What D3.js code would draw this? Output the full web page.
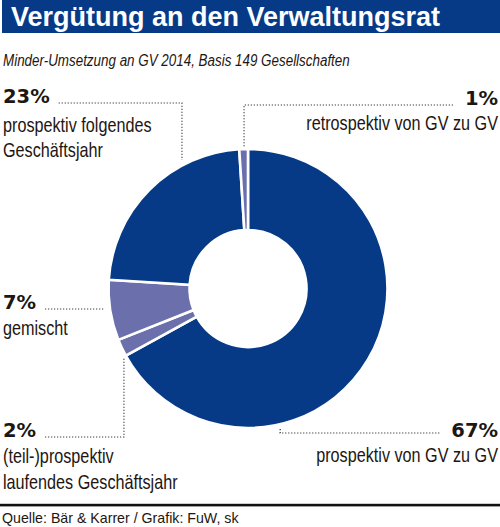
<!DOCTYPE html>
<html><head><meta charset="utf-8">
<script src="https://cdn.jsdelivr.net/npm/d3@7"></script>
<style>body{margin:0;background:#fff}svg{display:block}</style>
</head><body>
<script>
// ---- data ----
const title = "Vergütung an den Verwaltungsrat";
const subtitle = "Minder-Umsetzung an GV 2014, Basis 149 Gesellschaften";
const source = "Quelle: Bär & Karrer / Grafik: FuW, sk";
const categories = ["prospektiv von GV zu GV", "(teil-)prospektiv laufendes Geschäftsjahr", "gemischt", "prospektiv folgendes Geschäftsjahr", "retrospektiv von GV zu GV"];
const values = [67, 2, 7, 23, 1];
const labelLines = [["prospektiv von GV zu GV"], ["(teil-)prospektiv", "laufendes Geschäftsjahr"], ["gemischt"], ["prospektiv folgendes", "Geschäftsjahr"], ["retrospektiv von GV zu GV"]];

// ---- layout / style ----
const W = 500, H = 527;
const DARK = "#063a87", LIGHT = "#6b70ac", INK = "#1e1612";
const cx = 248, cy = 288.5, rOuter = 139.5, rInner = 58.5;
const color = d3.scaleOrdinal(categories, [DARK, LIGHT, LIGHT, DARK, LIGHT]);
// per category: side, baseline of percentage, baselines of the text lines, leader line y, anchor angle (deg) and radius
const layout = [
  {side: "right", pctY: 437, lines: [462], lineY: 433, ang: 167, r: 143},
  {side: "left", pctY: 437, lines: [463, 489], lineY: 437, ang: 241.1, r: 141.7},
  {side: "left", pctY: 309, lines: [335], lineY: 309, ang: 261.8, r: 144.5},
  {side: "left", pctY: 103, lines: [132, 157], lineY: 103, ang: 332.8, r: 144.5},
  {side: "right", pctY: 105, lines: [130], lineY: 105, ang: 358.4, r: 141.5}
];
const SANS = "'Liberation Sans', Arial, Helvetica, sans-serif";
const BOLDPCT = "'DejaVu Sans', Verdana, sans-serif";
const SQUEEZE = 0.79;

const svg = d3.select("body").append("svg").attr("width", W).attr("height", H);

// header
svg.append("rect").attr("x", 2).attr("y", 0).attr("width", W - 2).attr("height", 33).attr("fill", DARK);
svg.append("text").attr("x", 11).attr("y", 25.5).attr("fill", "#fff")
  .attr("font-family", SANS).attr("font-weight", 700).attr("font-size", 27).text(title);
const sub = svg.append("text").attr("fill", INK)
  .attr("font-family", SANS).attr("font-style", "italic").attr("font-size", 17).text(subtitle);
const subScale = 347 / sub.node().getComputedTextLength();
sub.attr("transform", `translate(3,65.5) scale(${subScale},1)`);

// donut
const pie = d3.pie().sort(null).value(d => d.value).startAngle(0).endAngle(2 * Math.PI);
const arc = d3.arc().innerRadius(rInner).outerRadius(rOuter);
const data = categories.map((c, i) => ({cat: c, value: values[i], lines: labelLines[i], L: layout[i]}));
const g = svg.append("g").attr("transform", `translate(${cx},${cy})`);
g.selectAll("path").data(pie(data)).join("path")
  .attr("d", arc).attr("fill", d => color(d.data.cat))
  .attr("stroke", "#fff").attr("stroke-width", 2.6).attr("stroke-linejoin", "miter");

// labels
data.forEach(d => {
  const L = d.L;
  const left = L.side === "left";
  const edge = left ? 3 : 498;
  const anchor = left ? "start" : "end";
  const pct = svg.append("text").attr("x", edge).attr("y", L.pctY).attr("text-anchor", anchor)
    .attr("fill", INK).attr("font-family", BOLDPCT).attr("font-weight", 700).attr("font-size", 19.5)
    .text(d.value + "%");
  const pw = pct.node().getComputedTextLength();
  d.lines.forEach((t, j) => {
    svg.append("text").attr("text-anchor", anchor)
      .attr("transform", `translate(${edge},${L.lines[j]}) scale(${SQUEEZE},1)`)
      .attr("fill", INK).attr("font-family", SANS).attr("font-size", 20.5).text(t);
  });
  const [ax, ay] = d3.pointRadial(L.ang * Math.PI / 180, L.r);
  const startX = left ? edge + pw + 9 : edge - pw - 12;
  const p = d3.path();
  p.moveTo(startX, L.lineY);
  p.lineTo(cx + ax, L.lineY);
  p.lineTo(cx + ax, cy + ay);
  svg.append("path").attr("d", p.toString()).attr("fill", "none")
    .attr("stroke", "#2a2420").attr("stroke-width", 1.2).attr("stroke-dasharray", "1.1 1.9");
});

// footer
svg.append("rect").attr("x", 0).attr("y", 503.8).attr("width", W).attr("height", 2.6).attr("fill", "#111");
svg.append("text").attr("x", 2).attr("y", 522.5).attr("fill", INK)
  .attr("font-family", SANS).attr("font-size", 14.2).text(source);
</script>
</body></html>
